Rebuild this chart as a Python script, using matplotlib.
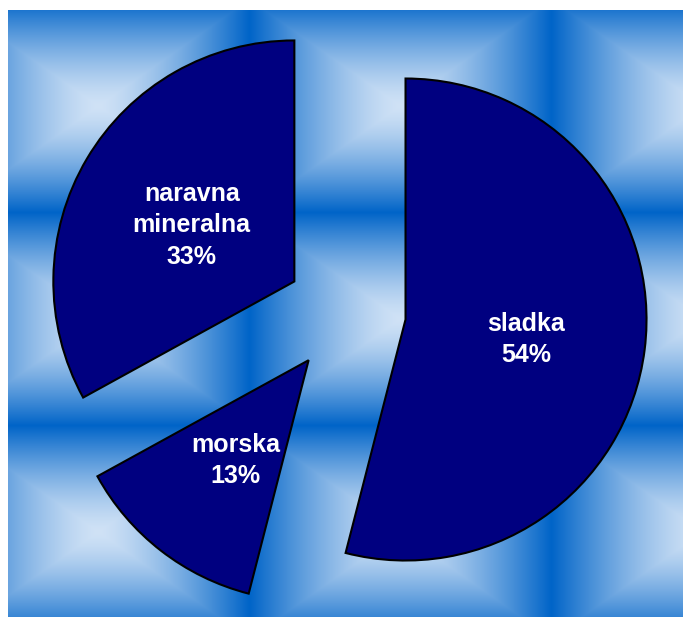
import numpy as np
import matplotlib.pyplot as plt
from matplotlib.colors import to_rgb

# water types and their shares (%)
names = ["sladka", "morska", "naravna\nmineralna"]
shares = [54, 13, 33]

W, H = 683, 617
light = np.array(to_rgb("#d0e2f6"))
dark = np.array(to_rgb("#0064c8"))


def tiled_background(width, height, top):
    # repeating rectangular "from centre" gradient tiles
    px = np.arange(width) + 8
    py = np.arange(height) + top
    tw, th = 302.0, 213.0
    cx, cy = 98.0, 105.5
    u = np.abs(((px - cx + tw / 2) % tw) - tw / 2) / (tw / 2)
    v = np.abs(((py - cy + th / 2) % th) - th / 2) / (th / 2)
    t = np.maximum(u[None, :], v[:, None]) ** 1.4
    return light[None, None, :] * (1 - t[..., None]) + dark[None, None, :] * t[..., None]


fig = plt.figure(figsize=(W / 100, H / 100), dpi=100)
ax = fig.add_axes([0, 0, 1, 1])

bg = tiled_background(W - 8, H - 10, 10)
ax.imshow(bg, extent=(8, W, 0, H - 10), origin="upper", interpolation="bilinear", zorder=0)

labels = [f"{n}\n{s}%" for n, s in zip(names, shares)]
wedges, texts = ax.pie(
    shares,
    labels=labels,
    startangle=90,
    counterclock=False,
    center=(346, H - 312),
    radius=241,
    explode=[60, 61, 60],
    labeldistance=0.5,
    frame=True,
    wedgeprops=dict(facecolor="#000080", edgecolor="black", linewidth=1.5),
    textprops=dict(color="white", fontsize=18, fontweight="bold",
                   family="Liberation Sans", ha="center", va="center",
                   linespacing=1.4),
)
for w in wedges:
    w.set_zorder(2)
for t in texts:
    # nudge the labels a little lower inside their slices
    x, y = t.get_position()
    t.set_position((x + 1, y - 5))
    t.set_zorder(3)

ax.set_xlim(0, W)
ax.set_ylim(0, H)
ax.set_aspect("equal")
ax.axis("off")

fig.savefig("out.png", dpi=100)
